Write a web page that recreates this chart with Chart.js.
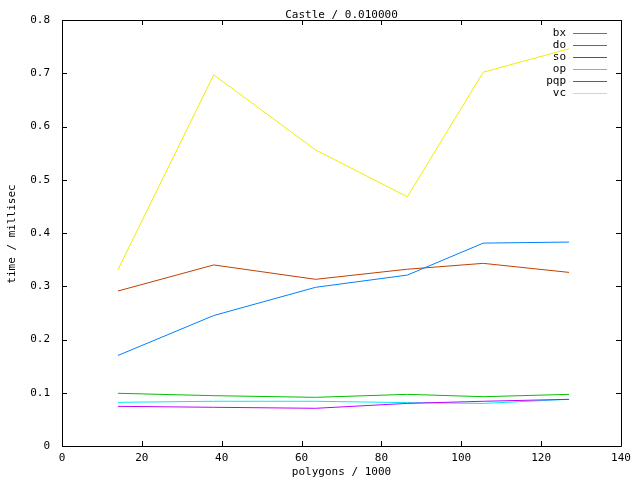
<!DOCTYPE html>
<html>
<head>
<meta charset="utf-8">
<script src="https://cdn.jsdelivr.net/npm/chart.js@4"></script>
<style>
  body { margin: 0; background: #fff; }
  #wrap { width: 640px; height: 480px; }
</style>
</head>
<body>
<div id="wrap"><canvas id="chart" width="640" height="480"></canvas></div>
<script>
// polygons / 1000
var polygons = [14, 38, 63.5, 86.5, 105.5, 127];

var bx  = [0.099, 0.0945, 0.0914, 0.097, 0.0926, 0.097];
var dO  = [0.170, 0.245, 0.298, 0.321, 0.381, 0.383];
var so  = [0.0745, 0.0727, 0.0708, 0.080, 0.084, 0.0877];
var op  = [0.082, 0.084, 0.084, 0.0814, 0.080, 0.0877];
var pqp = [0.291, 0.340, 0.313, 0.332, 0.343, 0.326];
var vc  = [0.331, 0.697, 0.556, 0.468, 0.702, 0.746];

var FONT = '"DejaVu Sans Mono", monospace';
var FSIZE = 11;

function pts(arr) {
    return arr.map(function (v, i) { return { x: polygons[i], y: v }; });
}

function ds(label, arr, color) {
    return {
        label: label,
        data: pts(arr),
        borderColor: color,
        backgroundColor: color,
        borderWidth: 1,
        pointRadius: 0,
        tension: 0,
        fill: false
    };
}

// gnuplot style frame, inward ticks, title, axis titles and legend
var gnuplotFrame = {
    id: 'gnuplotFrame',
    afterDraw: function (chart) {
        var ctx = chart.ctx;
        var a = chart.chartArea;
        var xs = chart.scales.x, ys = chart.scales.y;
        ctx.save();
        ctx.strokeStyle = '#000';
        ctx.lineWidth = 1;
        ctx.beginPath();
        ctx.rect(Math.round(a.left) + 0.5, Math.round(a.top) + 0.5,
                 Math.round(a.right - a.left), Math.round(a.bottom - a.top));
        var tl = 5;
        xs.ticks.forEach(function (t) {
            var px = Math.round(xs.getPixelForValue(t.value)) + 0.5;
            ctx.moveTo(px, a.bottom); ctx.lineTo(px, a.bottom - tl);
            ctx.moveTo(px, a.top); ctx.lineTo(px, a.top + tl);
        });
        ys.ticks.forEach(function (t) {
            var py = Math.round(ys.getPixelForValue(t.value)) + 0.5;
            ctx.moveTo(a.left, py); ctx.lineTo(a.left + tl, py);
            ctx.moveTo(a.right, py); ctx.lineTo(a.right - tl, py);
        });
        ctx.stroke();

        ctx.fillStyle = '#000';
        ctx.font = FSIZE + 'px ' + FONT;
        ctx.textBaseline = 'middle';
        ctx.textAlign = 'center';
        ctx.fillText('Castle / 0.010000', (a.left + a.right) / 2, 15);
        ctx.fillText('polygons / 1000', (a.left + a.right) / 2, 472);
        ctx.save();
        ctx.translate(12.5, 234);
        ctx.rotate(-Math.PI / 2);
        ctx.fillText('time / millisec', 0, 0);
        ctx.restore();

        // legend
        ctx.textAlign = 'right';
        chart.data.datasets.forEach(function (d, i) {
            var y = 33 + i * 12;
            ctx.fillStyle = '#000';
            ctx.fillText(d.label, 566, y);
            ctx.fillStyle = d.borderColor;
            ctx.fillRect(573, y, 34, 1);
        });
        ctx.restore();
    }
};

new Chart(document.getElementById('chart'), {
    type: 'line',
    data: {
        datasets: [
            ds('bx', bx, '#00c000'),
            ds('do', dO, '#0080ff'),
            ds('so', so, '#c000ff'),
            ds('op', op, '#00eeee'),
            ds('pqp', pqp, '#c04000'),
            ds('vc', vc, '#eeee00')
        ]
    },
    options: {
        responsive: false,
        animation: false,
        devicePixelRatio: 1,
        layout: { padding: { left: 0, top: 20, right: 19, bottom: 0 } },
        plugins: {
            legend: { display: false },
            title: { display: false },
            tooltip: { enabled: false }
        },
        scales: {
            x: {
                type: 'linear',
                min: 0,
                max: 140,
                ticks: { stepSize: 20, color: '#000', padding: 6, maxRotation: 0,
                         font: { family: FONT, size: FSIZE } },
                grid: { display: false, drawTicks: false },
                border: { display: false },
                afterFit: function (s) { s.height = 34; }
            },
            y: {
                min: 0,
                max: 0.8,
                ticks: { stepSize: 0.1, color: '#000', padding: 12,
                         font: { family: FONT, size: FSIZE } },
                grid: { display: false, drawTicks: false },
                border: { display: false },
                afterFit: function (s) { s.width = 62; }
            }
        }
    },
    plugins: [gnuplotFrame]
});
</script>
</body>
</html>
